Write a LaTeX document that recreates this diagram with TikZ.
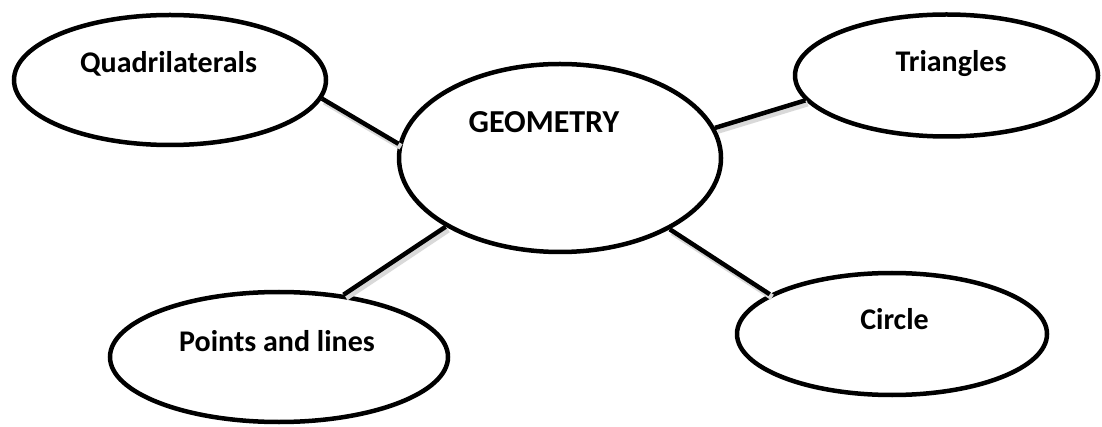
\documentclass[tikz,border=0pt]{standalone}
\usepackage{fontspec}
\setmainfont{Carlito}
\usetikzlibrary{shapes.geometric}
\begin{document}
\begin{tikzpicture}[x=1pt,y=-1pt,
  bubble/.style={ellipse,draw=black,line width=4.5pt,fill=white,inner sep=0pt},
  label text/.style={anchor=base,inner sep=0pt,font=\fontsize{30}{36}\selectfont\bfseries},
  link/.style={line width=4.5pt,draw=black},
  linkshadow/.style={line width=6pt,draw=black!15,transform canvas={shift={(2.5pt,-3pt)}}}]
\useasboundingbox (0,0) rectangle (1102,427);
\fill[white] (0,0) rectangle (1102,427);
% ellipses
\node[bubble,minimum width=312pt,minimum height=130pt] (quad) at (170,80) {};
\node[bubble,minimum width=303pt,minimum height=122pt] (tri) at (946.5,75.5) {};
\node[bubble,minimum width=322pt,minimum height=188pt] (geo) at (560,158) {};
\node[bubble,minimum width=338pt,minimum height=130pt] (pts) at (279,357) {};
\node[bubble,minimum width=310pt,minimum height=122pt] (circ) at (892,334) {};
% shadows
\draw[linkshadow] (quad.-7) -- (geo.175);
\draw[linkshadow] (geo.11) -- (tri.190);
\draw[linkshadow] (geo.211) -- (pts.44);
\draw[linkshadow] (geo.-33) -- (circ.162);
% connectors
\draw[link] (quad.-7) -- (geo.175);
\draw[link] (geo.11) -- (tri.190);
\draw[link] (geo.211) -- (pts.44);
\draw[link] (geo.-33) -- (circ.162);
% texts
\node[label text] (tquad) at (168.5,72.7) {Quadrilaterals};
\node[label text] (ttri) at (951,71.7) {Triangles};
\node[label text,font=\fontsize{32}{38}\selectfont\bfseries] (tgeo) at (544,132.7) {GEOMETRY};
\node[label text] (tpts) at (277,351.7) {Points and lines};
\node[label text] (tcirc) at (894.5,329) {Circle};
\end{tikzpicture}
\end{document}
